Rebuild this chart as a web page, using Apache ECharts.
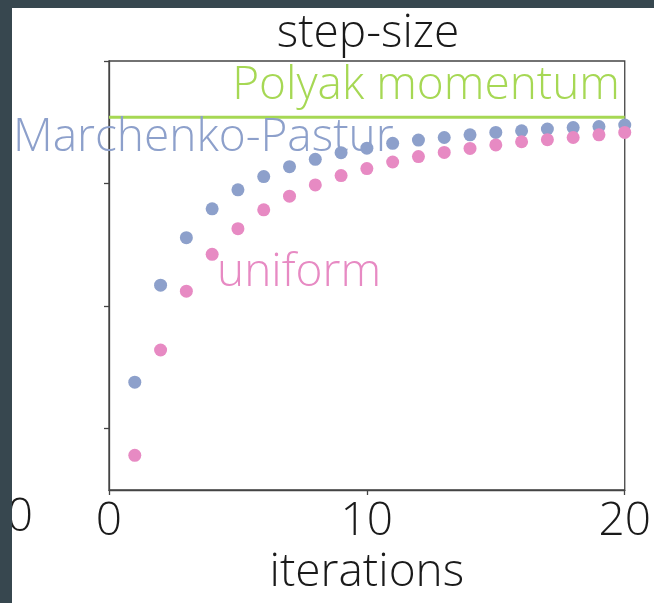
<!DOCTYPE html>
<html>
<head>
<meta charset="utf-8">
<script src="https://cdn.jsdelivr.net/npm/echarts@6/dist/echarts.min.js"></script>
<style>html,body{margin:0;padding:0;background:#fff;}#c{width:654px;height:603px;}</style>
</head>
<body>
<div id="c"></div>
<script>
const iterations = [1,2,3,4,5,6,7,8,9,10,11,12,13,14,15,16,17,18,19,20];
const marchenkoPastur = [1.380,2.171,2.559,2.794,2.949,3.057,3.138,3.198,3.252,3.289,3.328,3.355,3.376,3.398,3.417,3.431,3.445,3.457,3.465,3.477];
const uniform = [0.783,1.642,2.122,2.423,2.632,2.786,2.897,2.989,3.065,3.122,3.176,3.220,3.254,3.287,3.315,3.341,3.358,3.376,3.398,3.417];
const polyakLevel = 3.541;
const xTicks = [0, 10, 20];
const yTicks = [1, 2, 3, 4];

const FONT = '"Open Sans", "DejaVu Sans", sans-serif';
const FS = 46;
const BLUE = '#8da0cb', PINK = '#e78ac3', GREEN = '#a6d854';

const chart = echarts.init(document.getElementById('c'), null, {renderer: 'canvas'});
chart.setOption({
  backgroundColor: '#ffffff',
  animation: false,
  grid: {left: 109, right: 27, top: 61, bottom: 113, show: true, borderColor: '#444', borderWidth: 1.3, backgroundColor: 'transparent'},
  xAxis: {
    type: 'value', min: 0, max: 20, interval: 10,
    name: 'iterations', nameLocation: 'middle', nameGap: 50,
    nameTextStyle: {fontFamily: FONT, fontWeight: 300, fontSize: FS, color: '#1a1a1a'},
    axisLine: {show: true, lineStyle: {color: '#444', width: 1.3}},
    axisTick: {show: true, length: 5, lineStyle: {color: '#444', width: 1.3}},
    axisLabel: {show: true, margin: 9, fontFamily: FONT, fontWeight: 300, fontSize: FS, color: '#1a1a1a', showMinLabel: true, showMaxLabel: true},
    splitLine: {show: false}
  },
  yAxis: {
    type: 'value', min: 0.5, max: 4,
    axisLine: {show: true, onZero: false, lineStyle: {color: '#444', width: 1.3}},
    axisTick: {show: true, length: 5, customValues: yTicks, lineStyle: {color: '#444', width: 1.3}},
    axisLabel: {show: false},
    splitLine: {show: false}
  },
  series: [
    {
      type: 'line', data: [[0, polyakLevel], [20, polyakLevel]],
      symbol: 'none', lineStyle: {color: GREEN, width: 3}, z: 2
    },
    {
      type: 'scatter', data: iterations.map((x, i) => [x, marchenkoPastur[i]]),
      symbolSize: 13, itemStyle: {color: BLUE, opacity: 1}, z: 3, clip: false
    },
    {
      type: 'scatter', data: iterations.map((x, i) => [x, uniform[i]]),
      symbolSize: 13, itemStyle: {color: PINK, opacity: 1}, z: 4, clip: false
    }
  ],
  graphic: [
    {type: 'text', x: 368, y: 34, z: 10, style: {text: 'step-size', fontFamily: FONT, fontWeight: 300, fontSize: FS, fill: '#1a1a1a', align: 'center', verticalAlign: 'middle'}},
    {type: 'text', x: 620, y: 86, z: 10, style: {text: 'Polyak momentum', fontFamily: FONT, fontWeight: 300, fontSize: FS, fill: GREEN, align: 'right', verticalAlign: 'middle'}},
    {type: 'text', x: 13, y: 138, z: 10, style: {text: 'Marchenko-Pastur', fontFamily: FONT, fontWeight: 300, fontSize: FS, fill: BLUE, align: 'left', verticalAlign: 'middle'}},
    {type: 'text', x: 217, y: 273, z: 10, style: {text: 'uniform', fontFamily: FONT, fontWeight: 300, fontSize: FS, fill: PINK, align: 'left', verticalAlign: 'middle'}},
    {type: 'text', x: 33, y: 518, z: 10, style: {text: '20', fontFamily: FONT, fontWeight: 300, fontSize: FS, fill: '#1a1a1a', align: 'right', verticalAlign: 'middle'}},
    {type: 'rect', z: 100, shape: {x: 0, y: 0, width: 654, height: 8}, style: {fill: '#37474f'}},
    {type: 'rect', z: 100, shape: {x: 0, y: 0, width: 12, height: 603}, style: {fill: '#37474f'}}
  ]
});
</script>
</body>
</html>
